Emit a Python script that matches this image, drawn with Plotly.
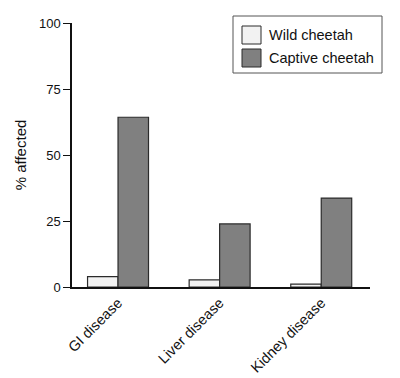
import plotly.graph_objects as go

categories = ["GI disease", "Liver disease", "Kidney disease"]
wild_values = [3.9, 2.7, 1.1]
captive_values = [64.3, 23.9, 33.7]
series_names = ["Wild cheetah", "Captive cheetah"]
y_ticks = [0, 25, 50, 75, 100]

wild_color = "#f2f2f2"
captive_color = "#808080"
edge = "#2b2b2b"
font_family = "Liberation Sans, Arial, sans-serif"

# the page body adds an 8px offset; design in page coordinates and shift
OFF = 8
W, H = 400 - OFF, 378 - OFF
L, T = 72 - OFF, 23 - OFF
R = 400 - 370
B = 378 - 287
pw, ph = W - L - R, H - T - B

fig = go.Figure()
fig.add_trace(go.Bar(x=categories, y=wild_values, name=series_names[0],
                     marker=dict(color=wild_color, line=dict(color=edge, width=1.2))))
fig.add_trace(go.Bar(x=categories, y=captive_values, name=series_names[1],
                     marker=dict(color=captive_color, line=dict(color=edge, width=1.2))))


def px(x):
    return (x - 72) / pw


def py(y):
    return (287 - y) / ph


shapes = [
    dict(type="rect", xref="paper", yref="paper", x0=px(233), x1=px(382), y0=py(73), y1=py(16),
         line=dict(color="#555555", width=1), fillcolor="white"),
    dict(type="rect", xref="paper", yref="paper", x0=px(242), x1=px(261), y0=py(44), y1=py(26),
         line=dict(color=edge, width=1), fillcolor=wild_color),
    dict(type="rect", xref="paper", yref="paper", x0=px(242), x1=px(261), y0=py(67), y1=py(49),
         line=dict(color=edge, width=1), fillcolor=captive_color),
]
annotations = [
    dict(xref="paper", yref="paper", x=px(267), y=py(35), text=series_names[0], showarrow=False,
         xanchor="left", yanchor="middle", font=dict(size=14.5, color="#111", family=font_family)),
    dict(xref="paper", yref="paper", x=px(267), y=py(58), text=series_names[1], showarrow=False,
         xanchor="left", yanchor="middle", font=dict(size=14.5, color="#111", family=font_family)),
]

fig.update_layout(
    width=W, height=H,
    margin=dict(l=L, r=R, t=T, b=B, pad=0, autoexpand=False),
    paper_bgcolor="white", plot_bgcolor="white",
    barmode="group", bargap=0.4, bargroupgap=0,
    showlegend=False,
    shapes=shapes, annotations=annotations,
    font=dict(family=font_family, color="#111"),
)
fig.update_xaxes(
    range=[-0.453, 2.48], showline=True, linecolor="#111", linewidth=1.5,
    ticks="", tickangle=-45, tickfont=dict(size=14.5), showgrid=False, zeroline=False,
    automargin=False,
)
fig.update_yaxes(
    range=[0, 100], tickvals=y_ticks, showline=True, linecolor="#111", linewidth=1.5,
    ticks="outside", ticklen=7, tickwidth=1.2, tickcolor="#111", tickfont=dict(size=13),
    showgrid=False, zeroline=False, automargin=False,
    title=dict(text="% affected", font=dict(size=15), standoff=9),
)

fig.write_html("out.html")
